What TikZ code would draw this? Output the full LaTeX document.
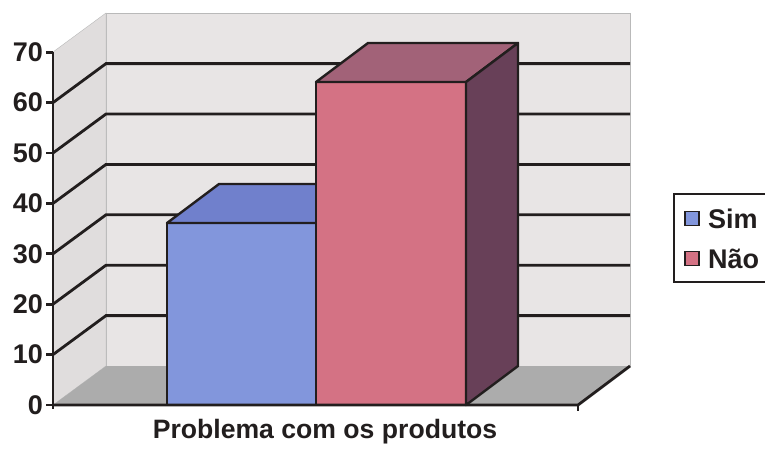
\documentclass[tikz,border=0pt]{standalone}
\usepackage{fontspec}
\setmainfont{Liberation Sans}
\usetikzlibrary{positioning}
\definecolor{simfront}{RGB}{130,150,220}
\definecolor{simtop}{RGB}{112,128,204}
\definecolor{naofront}{RGB}{212,114,132}
\definecolor{naotop}{RGB}{162,98,120}
\definecolor{naoside}{RGB}{104,64,88}
\definecolor{wallgray}{RGB}{232,229,229}
\definecolor{sidegray}{RGB}{224,221,221}
\definecolor{floorgray}{RGB}{172,172,172}
\definecolor{inkdark}{RGB}{34,30,30}
\tikzset{
  gridline/.style={line width=2.8pt,draw=inkdark},
  baredge/.style={line width=2.4pt,line join=round,draw=inkdark},
  numlabel/.style={font=\fontsize{27pt}{30pt}\selectfont\bfseries,text=inkdark,anchor=east,inner sep=0pt},
  keybox/.style={draw=inkdark,line width=1.8pt,minimum size=14pt,inner sep=0pt},
  legtext/.style={font=\fontsize{27pt}{30pt}\selectfont\bfseries,text=inkdark,inner sep=0pt},
}

\begin{document}
\begin{tikzpicture}[x=1pt,y=-1pt]
      \useasboundingbox (0,0) rectangle (765,448);
      \fill[white] (0,0) rectangle (765,448);
      % walls and floor
      \draw[fill=wallgray,draw=gray!55] (106,366) rectangle (630,13);
      \draw[fill=sidegray,draw=gray!55] (53,405) -- (53,52) -- (106,13) -- (106,366) -- cycle;
      \fill[floorgray] (53,405) -- (578,405) -- (630,366) -- (106,366) -- cycle;
      % grid
      \foreach \v in {10,20,...,60}
        \draw[gridline] (53,{405-5.04*\v}) -- (106,{366-5.04*\v}) -- (630,{366-5.04*\v});
      % bar Sim
      \draw[baredge,fill=simfront] (167,405) rectangle (316,223);
      \draw[baredge,fill=simtop] (167,223) -- (219,184) -- (368,184) -- (316,223) -- cycle;
      % bar Nao
      \draw[baredge,fill=naofront] (316,405) rectangle (466,82);
      \draw[baredge,fill=naotop] (316,82) -- (368,43) -- (518,43) -- (466,82) -- cycle;
      \draw[baredge,fill=naoside] (466,82) -- (518,43) -- (518,366) -- (466,405) -- cycle;
      % axes
      \draw[gridline] (53,52) -- (53,409);
      \draw[gridline] (53,405) -- (578,405) -- (630,366);
      \draw[gridline] (578,405) -- (578,411);
      \foreach \v in {0,10,...,70} {
        \draw[gridline] (46,{405-5.04*\v}) -- (53,{405-5.04*\v});
        \node[numlabel] (n\v) at (43,{405-5.04*\v}) {\v};
      }
      \node[legtext,font=\fontsize{26.6pt}{30pt}\selectfont\bfseries] (title) at (325,432) {Problema com os produtos};
      % legend
      \draw[line width=2.2pt,draw=inkdark] (674,194) rectangle (772,282);
      \node[keybox,fill=simfront] (ksim) at (692,218.5) {};
      \node[legtext,right=8pt of ksim] (lsim) {Sim};
      \node[keybox,fill=naofront] (knao) at (692,258.5) {};
      \node[legtext,right=8pt of knao] (lnao) {Não};
    \end{tikzpicture}
\end{document}
